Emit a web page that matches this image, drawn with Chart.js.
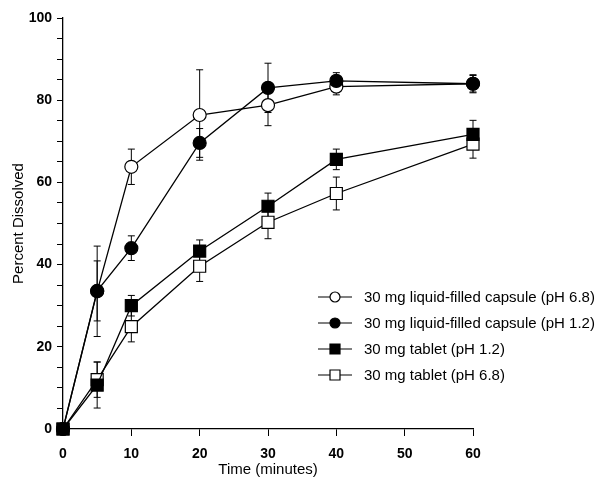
<!DOCTYPE html>
<html>
<head>
<meta charset="utf-8">
<script src="https://cdn.jsdelivr.net/npm/chart.js@4.4.1/dist/chart.umd.min.js"></script>
<style>
  html, body { margin: 0; padding: 0; background: #fff; }
  #wrap { width: 607px; height: 493px; }
</style>
</head>
<body>
<div id="wrap"><canvas id="chart" width="607" height="493"></canvas></div>
<script>
// time points (minutes)
const times = [0, 5, 10, 20, 30, 40, 60];

// percent dissolved
const capsule68 = [0, 33.5, 63.8, 76.4, 78.8, 83.3, 84.0];
const capsule68Err = [0, 11.0, 4.3, 11.0, 5.0, 2.0, 2.0];
const capsule12 = [0, 33.6, 44.0, 69.6, 83.0, 84.7, 84.0];
const capsule12Err = [0, 7.3, 3.0, 3.5, 6.0, 2.0, 2.2];
const tablet12 = [0, 10.7, 30.0, 43.3, 54.2, 65.6, 71.7];
const tablet12Err = [0, 5.6, 2.5, 2.7, 3.2, 2.5, 3.4];
const tablet68 = [0, 12.0, 24.9, 39.6, 50.3, 57.3, 69.3];
const tablet68Err = [0, 4.3, 3.7, 3.7, 4.0, 4.0, 3.4];

const seriesLabels = [
  '30 mg liquid-filled capsule (pH 6.8)',
  '30 mg liquid-filled capsule (pH 1.2)',
  '30 mg tablet (pH 1.2)',
  '30 mg tablet (pH 6.8)'
];

const FONT = '"Liberation Sans", Arial, sans-serif';

function toPoints(values) {
  return values.map((v, i) => ({ x: times[i], y: v }));
}

// filled series get a lower order so they are drawn on top
const datasets = [
  { label: seriesLabels[0], data: toPoints(capsule68), errors: capsule68Err, order: 2,
    pointStyle: 'circle', pointRadius: 6.5, pointBackgroundColor: '#fff', filled: false },
  { label: seriesLabels[1], data: toPoints(capsule12), errors: capsule12Err, order: 0,
    pointStyle: 'circle', pointRadius: 6.5, pointBackgroundColor: '#000', filled: true },
  { label: seriesLabels[2], data: toPoints(tablet12), errors: tablet12Err, order: 1,
    pointStyle: 'rect', pointRadius: 8.5, pointBackgroundColor: '#000', filled: true },
  { label: seriesLabels[3], data: toPoints(tablet68), errors: tablet68Err, order: 3,
    pointStyle: 'rect', pointRadius: 8.5, pointBackgroundColor: '#fff', filled: false }
].map(d => Object.assign({
  borderColor: '#000',
  borderWidth: 1.3,
  pointBorderColor: '#000',
  pointBorderWidth: 1.2,
  pointHoverRadius: d.pointRadius,
  tension: 0,
  clip: false
}, d));

// vertical error bars with caps, drawn under the markers
const errorBars = {
  id: 'errorBars',
  beforeDatasetsDraw(chart) {
    const { ctx, scales: { x, y } } = chart;
    ctx.save();
    ctx.strokeStyle = '#000';
    ctx.lineWidth = 1;
    chart.data.datasets.forEach(ds => {
      ds.data.forEach((p, i) => {
        const e = ds.errors[i];
        if (!e) return;
        const px = x.getPixelForValue(p.x);
        const top = y.getPixelForValue(p.y + e);
        const bot = y.getPixelForValue(p.y - e);
        ctx.beginPath();
        ctx.moveTo(px, top); ctx.lineTo(px, bot);
        ctx.moveTo(px - 3.5, top); ctx.lineTo(px + 3.5, top);
        ctx.moveTo(px - 3.5, bot); ctx.lineTo(px + 3.5, bot);
        ctx.stroke();
      });
    });
    ctx.restore();
  }
};

// legend with a short line through each marker
const lineLegend = {
  id: 'lineLegend',
  afterDraw(chart) {
    const { ctx } = chart;
    const x0 = 318, x1 = 352, tx = 364;
    const rows = [297, 323, 349, 375];
    ctx.save();
    ctx.font = '15px ' + FONT;
    ctx.textBaseline = 'middle';
    chart.data.datasets.forEach((ds, i) => {
      const yy = rows[i];
      const cx = (x0 + x1) / 2;
      ctx.strokeStyle = '#000';
      ctx.lineWidth = 1.2;
      ctx.beginPath();
      ctx.moveTo(x0, yy); ctx.lineTo(x1, yy);
      ctx.stroke();
      ctx.fillStyle = ds.filled ? '#000' : '#fff';
      ctx.beginPath();
      if (ds.pointStyle === 'circle') {
        ctx.arc(cx, yy, 5, 0, Math.PI * 2);
      } else {
        ctx.rect(cx - 5, yy - 5, 10, 10);
      }
      ctx.fill();
      ctx.stroke();
      ctx.fillStyle = '#000';
      ctx.fillText(ds.label, tx, yy + 1);
    });
    ctx.restore();
  }
};

new Chart(document.getElementById('chart'), {
  type: 'line',
  data: { datasets },
  plugins: [errorBars, lineLegend],
  options: {
    responsive: false,
    animation: false,
    events: [],
    layout: { padding: { top: 18, right: 134, left: 0, bottom: 0 } },
    plugins: { legend: { display: false }, tooltip: { enabled: false } },
    scales: {
      x: {
        type: 'linear',
        min: 0, max: 60,
        afterFit(scale) { scale.height = 64; },
        border: { display: true, color: '#000', width: 1.3 },
        grid: { drawOnChartArea: false, drawTicks: true, tickLength: 7, color: '#000', lineWidth: 1 },
        ticks: { stepSize: 10, padding: 10, color: '#000', font: { family: FONT, size: 14, weight: 'bold' } },
        title: { display: true, text: 'Time (minutes)', color: '#000',
                 font: { family: FONT, size: 15 }, padding: { top: 0, bottom: 14 } }
      },
      y: {
        min: 0, max: 100,
        afterFit(scale) { scale.width = 63; },
        border: { display: true, color: '#000', width: 1.3 },
        grid: { drawOnChartArea: false, drawTicks: true, tickLength: 6, color: '#000', lineWidth: 1 },
        ticks: {
          stepSize: 5, padding: 5, color: '#000', autoSkip: false,
          font: { family: FONT, size: 14, weight: 'bold' },
          callback: v => (v % 20 === 0 ? v : '')
        },
        title: { display: true, text: 'Percent Dissolved', color: '#000',
                 font: { family: FONT, size: 15 }, padding: { top: 10, bottom: 0 } }
      }
    }
  }
});
</script>
</body>
</html>
